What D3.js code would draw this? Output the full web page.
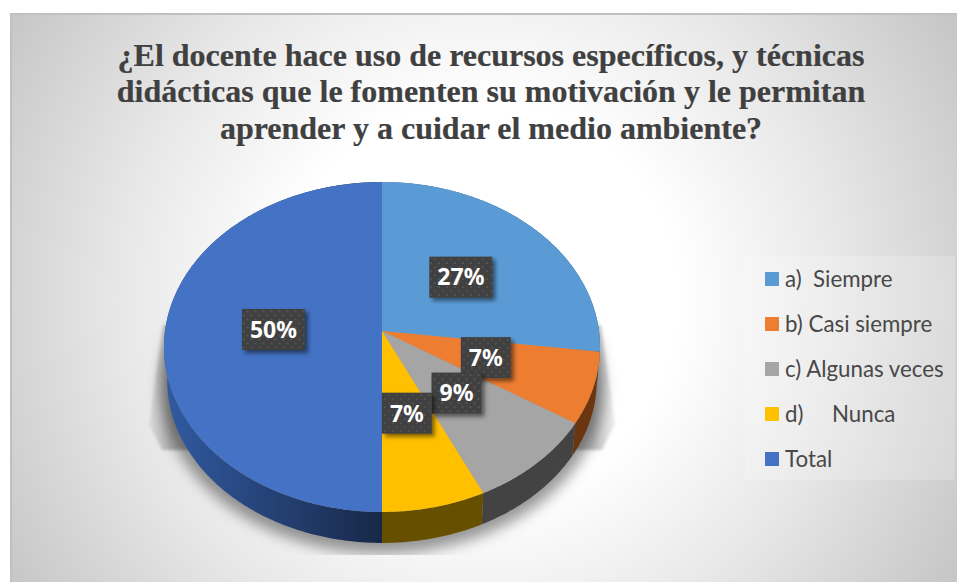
<!DOCTYPE html>
<html lang="es">
<head>
<meta charset="utf-8">
<title>Recursos y técnicas didácticas</title>
<script src="https://cdn.jsdelivr.net/npm/d3@7/dist/d3.min.js"></script>
<style>
  html, body { margin: 0; padding: 0; background: #fff; }
  svg { display: block; }
  .legend-label { white-space: pre; }
</style>
</head>
<body>
<svg id="chart" width="957" height="582"></svg>
<script>
// Survey answers, in percent
const categories = ["a)  Siempre", "b) Casi siempre", "c) Algunas veces", "d)     Nunca", "Total"];
const percentages = [27, 7, 9, 7, 50];
const topColors = ["#5b9bd5", "#ed7d31", "#a5a5a5", "#ffc000", "#4472c4"];
const wallColors = ["#2e5f88", "#6b3510", "#434343", "#665000", "url(#wallBlue)"];
const titleLines = [
  "¿El docente hace uso de recursos específicos, y técnicas",
  "didácticas que le fomenten su motivación y le permitan",
  "aprender y a cuidar el medio ambiente?"
];

const svg = d3.select("#chart");
const defs = svg.append("defs");

// Panel background
const bg = defs.append("radialGradient").attr("id", "panelFill")
  .attr("gradientUnits", "userSpaceOnUse")
  .attr("cx", 480).attr("cy", 300).attr("r", 550);
[[0, "#ffffff"], [0.36, "#ffffff"], [0.65, "#e8e8e8"], [1, "#c6c6c6"]].forEach(([o, c]) =>
  bg.append("stop").attr("offset", o).attr("stop-color", c));

svg.append("rect").attr("x", 10).attr("y", 13).attr("width", 947).attr("height", 569)
  .attr("fill", "url(#panelFill)");
svg.append("path").attr("d", "M11,582V14H957").attr("fill", "none")
  .attr("stroke", "#c0c0c0").attr("stroke-width", 2);

// Title
svg.append("g").selectAll("text").data(titleLines).join("text")
  .attr("x", 491)
  .attr("y", (d, i) => 65.5 + i * 36.5)
  .attr("text-anchor", "middle")
  .attr("font-family", "'Liberation Serif', serif")
  .attr("font-weight", 700)
  .attr("font-size", 32)
  .attr("fill", "#404040")
  .attr("stroke", "#404040")
  .attr("stroke-width", 0.2)
  .text(d => d);

// Tilted-disc projection: a unit circle seen in perspective, apex at (382, 331)
const tilt = -0.097;
const xScale = d3.scaleLinear().domain([-1, 1]).range([382 - 217, 382 + 217]);
const yScale = d3.scaleLinear().domain([-1, 1]).range([331 - 163.4, 331 + 163.4]);
const project = (u, v, s = 1, dy = 0) => {
  const w = 1 + tilt * v;
  return [xScale(s * u / w), yScale(s * v / w) + dy];
};
const onRim = (a, s, dy) => project(Math.sin(a), -Math.cos(a), s, dy);
const samples = (a0, a1) => {
  const n = Math.max(2, Math.ceil((a1 - a0) / 0.01));
  return d3.range(n + 1).map(i => a0 + (a1 - a0) * i / n);
};
const line = d3.line();

const pie = d3.pie().sort(null)(percentages);
const wallDepth = 33.7, wallScale = 0.985;

// Drop shadow below the disc
const blurFilter = (id, deviation) => defs.append("filter").attr("id", id)
  .attr("x", "-20%").attr("y", "-20%").attr("width", "140%").attr("height", "140%")
  .append("feGaussianBlur").attr("stdDeviation", deviation);
blurFilter("shadowBlur", 7);
blurFilter("thinBlur", 1.5);

defs.append("clipPath").attr("id", "shadowClip").append("rect")
  .attr("x", 100).attr("y", 300).attr("width", 560).attr("height", 255);

const sideFade = (id, x1, x2) => {
  const g = defs.append("linearGradient").attr("id", id)
    .attr("gradientUnits", "userSpaceOnUse")
    .attr("x1", x1).attr("y1", 0).attr("x2", x2).attr("y2", 0);
  g.append("stop").attr("offset", 0).attr("stop-color", "#000").attr("stop-opacity", 0.07);
  g.append("stop").attr("offset", 1).attr("stop-color", "#000").attr("stop-opacity", 0.26);
};
sideFade("fadeLeft", 150, 172);
sideFade("fadeRight", 614, 592);

const shadow = svg.append("g").attr("clip-path", "url(#shadowClip)");
shadow.append("path")
  .attr("d", line([[163, 325], [149, 424], [162, 450], [190, 450], [190, 325]]) + "Z")
  .attr("fill", "url(#fadeLeft)").attr("filter", "url(#thinBlur)");
shadow.append("path")
  .attr("d", line([[601, 325], [615, 424], [602, 450], [575, 450], [575, 325]]) + "Z")
  .attr("fill", "url(#fadeRight)").attr("filter", "url(#thinBlur)");
shadow.append("path")
  .attr("d", line(samples(0, 2 * Math.PI).map(a => onRim(a, 1.015, wallDepth + 5))) + "Z")
  .attr("fill", "#000").attr("fill-opacity", 0.4).attr("filter", "url(#shadowBlur)");

// Side wall of the dark blue slice
const wallBlue = defs.append("linearGradient").attr("id", "wallBlue")
  .attr("gradientUnits", "userSpaceOnUse")
  .attr("x1", 170).attr("y1", 0).attr("x2", 382).attr("y2", 0);
[[0, "#30599f"], [1, "#182848"]].forEach(([o, c]) =>
  wallBlue.append("stop").attr("offset", o).attr("stop-color", c));

svg.append("g").selectAll("path").data(pie).join("path")
  .attr("d", d => {
    const arc = samples(d.startAngle, d.endAngle);
    const outer = arc.map(a => onRim(a, 1, 0));
    const inner = arc.slice().reverse().map(a => onRim(a, wallScale, wallDepth));
    return line(outer.concat(inner)) + "Z";
  })
  .attr("fill", (d, i) => wallColors[i]);

// Top faces
svg.append("g").selectAll("path").data(pie).join("path")
  .attr("d", d => line([project(0, 0)].concat(
    samples(d.startAngle, d.endAngle).map(a => onRim(a, 1, 0)))) + "Z")
  .attr("fill", (d, i) => topColors[i]);

// Percentage tags
const dots = defs.append("pattern").attr("id", "tagDots")
  .attr("patternUnits", "userSpaceOnUse").attr("width", 8).attr("height", 8);
dots.append("rect").attr("width", 8).attr("height", 8).attr("fill", "#3f3f3f");
[[1, 1], [5, 5]].forEach(([x, y]) =>
  dots.append("rect").attr("x", x).attr("y", y).attr("width", 2).attr("height", 2).attr("fill", "#525252"));

const tagShadow = defs.append("filter").attr("id", "tagShadow")
  .attr("x", "-30%").attr("y", "-30%").attr("width", "160%").attr("height", "160%");
tagShadow.append("feDropShadow").attr("dx", 3).attr("dy", 3).attr("stdDeviation", 2.2)
  .attr("flood-color", "#000").attr("flood-opacity", 0.5);

const centroid = d3.arc().innerRadius(0).outerRadius(1);
const tags = svg.append("g").selectAll("g").data(pie).join("g")
  .attr("transform", d => {
    const [u, v] = centroid.centroid(d);
    const [x, y] = project(u, v);
    return `translate(${x},${y - 1.5})`;
  });
tags.append("text")
  .attr("text-anchor", "middle")
  .attr("y", 8.3)
  .attr("font-family", "'Noto Sans', sans-serif")
  .attr("font-weight", 700)
  .attr("font-size", 23)
  .attr("fill", "#ffffff")
  .text(d => d.value + "%");
tags.insert("rect", "text")
  .each(function () {
    const w = this.parentNode.querySelector("text").getComputedTextLength() + 16;
    d3.select(this).attr("x", -w / 2).attr("width", w);
  })
  .attr("y", -20.5).attr("height", 41)
  .attr("fill", "url(#tagDots)")
  .attr("filter", "url(#tagShadow)");

// Legend
svg.append("rect").attr("x", 745).attr("y", 256).attr("width", 210).attr("height", 224)
  .attr("fill", "#fff").attr("fill-opacity", 0.2);

const legendY = d3.scalePoint().domain(categories).range([279, 459]);
const legend = svg.append("g").selectAll("g").data(categories).join("g")
  .attr("transform", d => `translate(765,${legendY(d)})`);
legend.append("rect").attr("y", -7).attr("width", 14).attr("height", 14)
  .attr("fill", (d, i) => topColors[i]);
legend.append("text").attr("class", "legend-label")
  .attr("x", 20).attr("y", 7.5)
  .attr("font-family", "Lato, sans-serif")
  .attr("font-size", 22.3)
  .attr("fill", "#484848")
  .text(d => d);
</script>
</body>
</html>
